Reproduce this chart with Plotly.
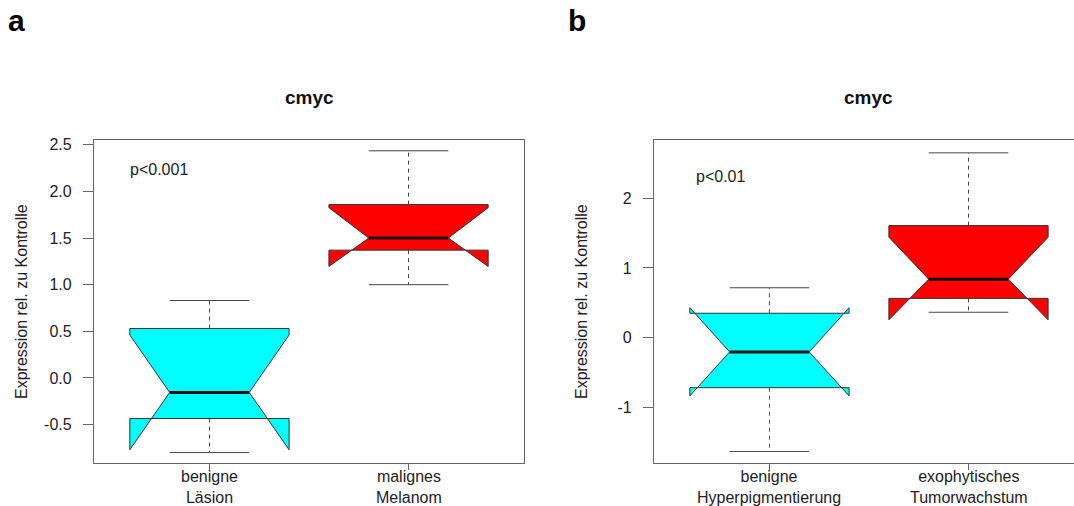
import plotly.graph_objects as go

# ---- data: cmyc expression (relative to control) ----
title_text = "cmyc"
y_title = "Expression rel. zu Kontrolle"

# panel a
groups_a = ["benigne<br>Läsion", "malignes<br>Melanom"]
lower_a = [-0.80, 1.00]
q1_a = [-0.435, 1.37]
median_a = [-0.155, 1.50]
q3_a = [0.53, 1.858]
upper_a = [0.83, 2.435]
notch_lo_a = [-0.77, 1.195]
notch_hi_a = [0.46, 1.825]
pval_a = "p<0.001"
yticks_a = [-0.5, 0.0, 0.5, 1.0, 1.5, 2.0, 2.5]
yticklabels_a = ["-0.5", "0.0", "0.5", "1.0", "1.5", "2.0", "2.5"]

# panel b
groups_b = ["benigne<br>Hyperpigmentierung", "exophytisches<br>Tumorwachstum"]
lower_b = [-1.63, 0.365]
q1_b = [-0.716, 0.564]
median_b = [-0.204, 0.84]
q3_b = [0.351, 1.607]
upper_b = [0.716, 2.65]
notch_lo_b = [-0.834, 0.256]
notch_hi_b = [0.431, 1.441]
pval_b = "p<0.01"
yticks_b = [-1, 0, 1, 2]
yticklabels_b = ["-1", "0", "1", "2"]

box_colors = ["#00FFFF", "#FF0000"]

W, H = 1074, 506
FONT = "Liberation Sans, Arial, Helvetica, sans-serif"
BOXWEX = 0.8
NOTCH_FRAC = 0.5
STAPLE = 0.5


def px(x):
    return x / W


def py(y):
    return 1 - y / H


fig = go.Figure()


def add_boxes(xa, ya, lower, q1, med, q3, upper, clo, chi):
    half = BOXWEX / 2
    inner = half * NOTCH_FRAC
    cap = half * STAPLE
    for i in range(len(med)):
        x = i + 1
        # whiskers (dashed) and staples
        fig.add_trace(go.Scatter(
            x=[x, x, None, x, x], y=[q3[i], upper[i], None, q1[i], lower[i]],
            mode="lines", line=dict(color="#444", width=1, dash="4px,4px"),
            xaxis=xa, yaxis=ya, hoverinfo="skip", showlegend=False))
        fig.add_trace(go.Scatter(
            x=[x - cap, x + cap, None, x - cap, x + cap],
            y=[upper[i], upper[i], None, lower[i], lower[i]],
            mode="lines", line=dict(color="#444", width=1),
            xaxis=xa, yaxis=ya, hoverinfo="skip", showlegend=False))
        # notched box polygon
        xs = [x - half, x + half, x + half, x + inner, x + half, x + half,
              x - half, x - half, x - inner, x - half, x - half]
        ys = [q1[i], q1[i], clo[i], med[i], chi[i], q3[i],
              q3[i], chi[i], med[i], clo[i], q1[i]]
        fig.add_trace(go.Scatter(
            x=xs, y=ys, mode="lines", fill="toself",
            fillcolor=box_colors[i], line=dict(color="#333", width=1),
            xaxis=xa, yaxis=ya, hoverinfo="skip", showlegend=False))
        # median
        fig.add_trace(go.Scatter(
            x=[x - inner, x + inner], y=[med[i], med[i]], mode="lines",
            line=dict(color="#111", width=3),
            xaxis=xa, yaxis=ya, hoverinfo="skip", showlegend=False))


add_boxes("x", "y", lower_a, q1_a, median_a, q3_a, upper_a, notch_lo_a, notch_hi_a)
add_boxes("x2", "y2", lower_b, q1_b, median_b, q3_b, upper_b, notch_lo_b, notch_hi_b)

ydom = [py(463.3), py(139.6)]
axis_common = dict(
    showgrid=False, zeroline=False, showline=True, linecolor="#666", linewidth=1.2,
    ticks="outside", tickcolor="#666", tickwidth=1, automargin=False,
    tickfont=dict(family=FONT, size=16, color="#222"),
)

fig.update_layout(
    width=W, height=H,
    margin=dict(l=0, r=0, t=0, b=0, autoexpand=False),
    paper_bgcolor="white", plot_bgcolor="white",
    showlegend=False,
    xaxis=dict(domain=[px(94), px(524)], range=[0.42, 2.58], anchor="y",
               tickvals=[1, 2], showticklabels=False, ticklen=6, mirror=True,
               **axis_common),
    yaxis=dict(domain=ydom, range=[-0.915, 2.555], anchor="x",
               tickvals=yticks_a, ticktext=yticklabels_a, ticklen=10, mirror=True,
               ticklabelstandoff=8, **axis_common),
    xaxis2=dict(domain=[px(654), 1.0], range=[0.42, 2.53], anchor="y2",
                tickvals=[1, 2], showticklabels=False, ticklen=6, mirror=True,
                **axis_common),
    yaxis2=dict(domain=ydom, range=[-1.80, 2.84], anchor="x2",
                tickvals=yticks_b, ticktext=yticklabels_b, ticklen=10, mirror=False,
                ticklabelstandoff=8, **axis_common),
)

annotations = [
    # panel letters
    dict(text="<b>a</b>", x=px(6), y=py(21), xanchor="left", yanchor="middle",
         font=dict(family=FONT, size=30, color="#000")),
    dict(text="<b>b</b>", x=px(566), y=py(21), xanchor="left", yanchor="middle",
         font=dict(family=FONT, size=30, color="#000")),
    # titles
    dict(text="<b>" + title_text + "</b>", x=px(309), y=py(97), xanchor="center",
         yanchor="middle", font=dict(family=FONT, size=19, color="#111")),
    dict(text="<b>" + title_text + "</b>", x=px(868.5), y=py(97), xanchor="center",
         yanchor="middle", font=dict(family=FONT, size=19, color="#111")),
    # y-axis titles
    dict(text=y_title, x=px(21), y=py(302), textangle=-90, xanchor="center",
         yanchor="middle", font=dict(family=FONT, size=16, color="#222")),
    dict(text=y_title, x=px(581), y=py(302), textangle=-90, xanchor="center",
         yanchor="middle", font=dict(family=FONT, size=16, color="#222")),
]
for a in annotations:
    a.update(xref="paper", yref="paper", showarrow=False)

# two-line group labels under each box
for xa, groups in (("x", groups_a), ("x2", groups_b)):
    for i, g in enumerate(groups):
        annotations.append(dict(text=g, x=i + 1, y=py(487), xref=xa, yref="paper",
                                xanchor="center", yanchor="middle", showarrow=False,
                                font=dict(family=FONT, size=16, color="#222")))

# p-values placed in data coordinates
annotations.append(dict(text=pval_a, x=0.59, y=2.23, xref="x", yref="y",
                        xanchor="left", yanchor="middle", showarrow=False,
                        font=dict(family=FONT, size=16, color="#222")))
annotations.append(dict(text=pval_b, x=0.62, y=2.31, xref="x2", yref="y2",
                        xanchor="left", yanchor="middle", showarrow=False,
                        font=dict(family=FONT, size=16, color="#222")))
fig.update_layout(annotations=annotations)

fig.write_html("out.html")
